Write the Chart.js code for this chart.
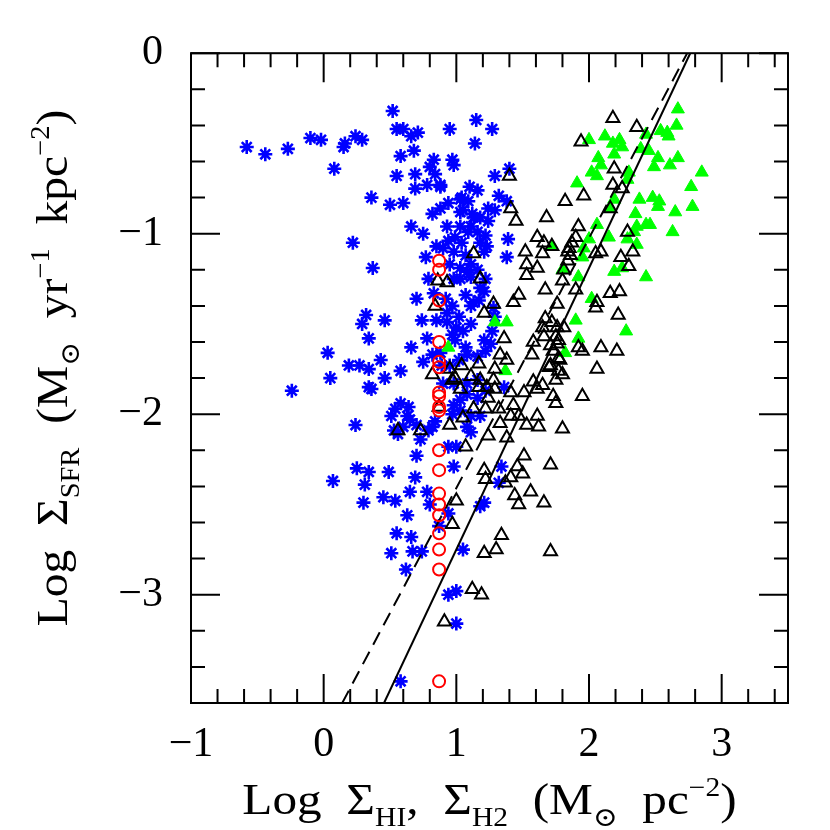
<!DOCTYPE html>
<html>
<head>
<meta charset="utf-8">
<script src="https://cdn.jsdelivr.net/npm/chart.js@4.4.1/dist/chart.umd.min.js"></script>
<style>
  html, body { margin: 0; padding: 0; background: #fff; }
  canvas { display: block; }
</style>
</head>
<body>
<canvas id="ks" width="830" height="830"></canvas>
<script>
(() => {
  'use strict'

  // Axis ticks
  const xTicks = [-1, 0, 1, 2, 3];
  const yTicks = [0, -1, -2, -3];

  // Reference relations (two end points each)
  const solidLine = [[0.455, -3.6], [2.763, 0]];
  const dashedLine = [[0.14, -3.6], [2.74, 0]];

  // Red open circles, all at the same x
  const redCircles = [
    [0.87, -1.15], [0.87, -1.20], [0.87, -1.37], [0.87, -1.60], [0.87, -1.71], [0.87, -1.74],
    [0.87, -1.88], [0.87, -1.90], [0.87, -1.96], [0.87, -1.98], [0.87, -2.20], [0.87, -2.31],
    [0.87, -2.44], [0.87, -2.50], [0.87, -2.56], [0.87, -2.66], [0.87, -2.75], [0.87, -2.86],
    [0.87, -3.48]
  ];

  // Blue asterisks
  const blueStars = [
    [-0.58, -0.52], [-0.44, -0.56], [-0.27, -0.53], [-0.10, -0.47], [-0.02, -0.48], [0.15, -0.52], [0.16, -0.50], [0.24, -0.46], [0.29, -0.48], [0.08, -0.64],
    [0.52, -0.32], [0.55, -0.42], [0.60, -0.42], [0.66, -0.46], [0.71, -0.44], [0.95, -0.42], [1.15, -0.37], [1.14, -0.50], [1.27, -0.42], [0.58, -0.57],
    [0.68, -0.54], [0.83, -0.59], [0.80, -0.63], [0.97, -0.59], [0.98, -0.62], [0.55, -0.68], [0.69, -0.67], [0.84, -0.67], [0.78, -0.73], [0.88, -0.73],
    [0.69, -0.75], [0.36, -0.80], [0.50, -0.84], [0.60, -0.83], [0.82, -0.89], [0.94, -0.83], [0.88, -0.86], [1.10, -0.74], [1.04, -0.80], [0.66, -0.96],
    [0.75, -1.00], [0.22, -1.05], [0.37, -1.19], [0.77, -1.13], [0.85, -1.07], [0.93, -0.96], [1.03, -0.88], [1.13, -0.91], [1.09, -0.99], [1.04, -1.05],
    [0.98, -1.10], [1.08, -1.21], [1.03, -1.25], [0.79, -1.25], [0.70, -1.36], [0.83, -1.33], [1.07, -1.34], [1.13, -1.38], [0.93, -1.44], [0.85, -1.48],
    [0.74, -1.48], [0.32, -1.45], [0.29, -1.50], [0.46, -1.48], [0.34, -1.58], [0.66, -1.63], [0.78, -1.58], [1.00, -1.52], [1.07, -1.63], [0.99, -1.59],
    [0.03, -1.66], [0.19, -1.73], [0.27, -1.73], [0.43, -1.70], [0.34, -1.75], [0.58, -1.76], [0.05, -1.80], [0.46, -1.80], [0.75, -1.71], [1.29, -0.68],
    [1.40, -0.64], [0.88, -0.74], [1.16, -0.76], [1.32, -0.79], [1.38, -0.82], [1.03, -0.81], [1.09, -0.82], [1.05, -0.87], [1.12, -0.89], [1.24, -0.86],
    [1.29, -0.87], [1.18, -0.91], [1.24, -0.93], [1.03, -0.96], [1.11, -0.96], [1.16, -0.99], [1.22, -1.01], [0.99, -1.02], [1.18, -1.05], [1.23, -1.07],
    [1.39, -1.03], [0.94, -1.04], [0.90, -1.08], [1.07, -1.12], [1.21, -1.10], [1.38, -1.13], [0.95, -1.17], [1.03, -1.19], [1.11, -1.17], [1.16, -1.20],
    [0.98, -1.25], [1.11, -1.24], [1.22, -1.25], [1.18, -1.30], [0.92, -1.36], [0.97, -1.40], [1.11, -1.40], [1.17, -1.37], [1.21, -1.32], [0.93, -1.49],
    [1.02, -1.46], [1.11, -1.50], [1.28, -1.41], [1.29, -1.46], [0.82, -1.67], [0.88, -1.66], [0.97, -1.56], [1.05, -1.54], [1.08, -1.67], [1.21, -1.59],
    [1.22, -1.65], [1.26, -1.61], [1.16, -1.68], [1.27, -1.54], [0.36, -1.86], [0.89, -1.73], [0.95, -1.73], [1.02, -1.70], [0.90, -1.83], [0.98, -1.83],
    [1.08, -1.83], [1.16, -1.81], [1.22, -1.87], [1.16, -1.91], [1.08, -1.89], [1.03, -1.92], [0.98, -1.95], [0.97, -2.00], [1.03, -1.98], [1.11, -2.01],
    [1.18, -2.01], [1.08, -2.07], [1.11, -2.10], [1.36, -1.85], [0.54, -1.97], [0.58, -1.94], [0.64, -1.96], [0.63, -2.01], [0.65, -2.03], [0.60, -2.07],
    [0.56, -2.11], [0.53, -2.09], [0.70, -2.06], [0.73, -2.14], [0.79, -2.09], [0.82, -2.07], [0.84, -2.04], [0.70, -2.23], [0.49, -2.32], [0.94, -2.18],
    [1.00, -2.18], [0.98, -2.29], [1.34, -2.29], [-0.24, -1.87], [0.34, -1.85], [0.24, -2.06], [0.51, -2.01], [0.25, -2.30], [0.34, -2.32], [0.07, -2.37],
    [0.31, -2.39], [0.45, -2.46], [0.54, -2.48], [0.30, -2.49], [0.55, -2.66], [0.51, -2.77], [0.69, -2.35], [0.65, -2.43], [0.78, -2.43], [0.63, -2.56],
    [0.80, -2.50], [0.94, -2.55], [0.87, -2.62], [0.66, -2.68], [0.67, -2.76], [0.74, -2.76], [0.62, -2.86], [1.05, -2.75], [1.18, -2.51], [1.21, -2.49],
    [1.32, -2.38], [0.94, -3.00], [1.00, -2.98], [1.00, -3.16], [0.58, -3.48]
  ];

  // Black open triangles
  const blackTriangles = [
    [1.40, -0.68], [1.41, -0.86], [1.45, -0.93], [1.13, -1.11], [1.82, -0.82], [1.68, -0.91], [1.61, -1.02], [1.66, -1.05], [1.52, -1.10], [1.65, -1.11],
    [1.53, -1.17], [1.61, -1.19], [1.53, -1.23], [1.84, -1.10], [1.80, -1.26], [0.86, -1.26], [1.18, -1.25], [0.93, -1.27], [0.84, -1.40], [1.47, -1.34],
    [1.67, -1.31], [1.43, -1.38], [1.28, -1.39], [1.21, -1.44], [1.76, -1.39], [1.67, -1.47], [1.72, -1.49], [1.65, -1.52], [1.76, -1.52], [1.66, -1.57],
    [1.75, -1.57], [1.81, -1.52], [1.36, -1.58], [1.58, -1.60], [1.76, -1.61], [1.57, -1.67], [1.33, -1.67], [1.38, -1.70], [1.71, -1.73], [1.78, -1.70],
    [1.77, -1.76], [1.80, -1.78], [1.17, -1.72], [1.04, -1.73], [0.95, -1.75], [1.29, -1.75], [1.28, -1.81], [0.82, -1.78], [0.97, -1.81], [1.11, -1.79],
    [1.18, -1.81], [1.03, -1.86], [1.17, -1.85], [1.23, -1.85], [1.29, -1.86], [1.24, -1.91], [1.41, -1.88], [1.51, -1.88], [1.58, -1.82], [1.61, -1.86],
    [1.73, -1.90], [1.75, -1.94], [1.13, -1.97], [1.22, -1.97], [1.32, -1.97], [1.43, -1.95], [1.41, -2.01], [1.47, -2.01], [1.61, -2.01], [1.53, -2.06],
    [1.62, -2.07], [1.80, -2.08], [0.87, -1.96], [1.05, -2.02], [0.95, -2.06], [0.73, -2.09], [0.56, -2.09], [1.33, -2.05], [1.38, -2.13], [1.24, -2.12],
    [1.07, -2.18], [1.51, -2.23], [1.71, -2.28], [1.46, -2.29], [1.21, -2.31], [0.99, -1.80], [1.22, -2.36], [1.50, -2.33], [1.41, -2.35], [1.37, -2.38],
    [1.56, -2.43], [1.44, -2.45], [1.47, -2.50], [1.66, -2.49], [1.00, -2.48], [0.97, -2.61], [1.34, -2.67], [1.30, -2.75], [1.21, -2.77], [1.71, -2.76],
    [1.12, -2.97], [1.19, -3.00], [0.91, -3.15], [2.16, -0.86], [1.92, -0.96], [1.90, -1.02], [1.87, -1.05], [1.85, -1.08], [1.86, -1.12], [1.84, -1.15],
    [1.81, -1.20], [1.72, -1.07], [2.29, -0.99], [2.33, -1.10], [2.24, -1.13], [2.30, -1.18], [2.05, -1.11], [2.09, -1.10], [1.90, -1.31], [2.16, -1.33],
    [2.23, -1.32], [2.06, -1.38], [2.05, -1.41], [2.22, -1.45], [1.77, -1.59], [1.71, -1.62], [1.73, -1.65], [1.92, -1.63], [1.95, -1.65], [2.09, -1.63],
    [2.21, -1.65], [1.77, -1.69], [1.70, -1.74], [1.75, -1.81], [2.06, -1.75], [1.65, -1.84], [1.95, -1.90], [2.18, -0.36], [2.36, -0.41], [1.94, -0.49],
    [2.19, -0.64], [2.18, -0.73], [2.25, -0.75], [1.96, -0.79]
  ];

  // Green filled triangles
  const greenTriangles = [
    [1.72, -1.07], [1.80, -1.20], [1.29, -1.49], [1.38, -1.49], [0.94, -1.63], [1.37, -1.76], [1.82, -1.66], [2.35, -0.89], [2.65, -0.88], [2.52, -0.85],
    [2.78, -0.85], [2.36, -0.96], [2.43, -0.95], [2.46, -0.95], [2.63, -0.99], [2.06, -0.95], [2.34, -0.99], [2.15, -1.02], [2.29, -1.03], [2.36, -1.06],
    [2.00, -1.03], [1.96, -1.08], [1.95, -1.13], [2.19, -1.21], [2.25, -1.19], [2.43, -1.24], [1.92, -1.24], [2.02, -1.36], [1.90, -1.48], [1.92, -1.58],
    [2.28, -1.54], [2.67, -0.31], [2.00, -0.48], [2.12, -0.46], [2.23, -0.48], [2.18, -0.50], [2.25, -0.52], [2.54, -0.43], [2.59, -0.44], [2.66, -0.40],
    [2.60, -0.46], [2.43, -0.45], [2.07, -0.58], [2.19, -0.56], [2.39, -0.53], [2.45, -0.54], [2.52, -0.58], [2.67, -0.58], [2.09, -0.62], [2.02, -0.66],
    [2.06, -0.68], [2.30, -0.66], [2.29, -0.70], [2.49, -0.63], [2.61, -0.62], [2.85, -0.66], [1.91, -0.72], [2.38, -0.81], [2.48, -0.80], [2.53, -0.82],
    [2.77, -0.74], [2.19, -0.81], [2.16, -0.86]
  ];

  const FONT = '"Liberation Serif", "DejaVu Serif", serif';
  const TICK_SIZE = 42;
  const TITLE_SIZE = 44;

  const toXY = pts => pts.map(p => ({ x: p[0], y: p[1] }));
  const fmt = v => String(v).replace('-', '\u2212');

  // Axis titles, pieces as [text, 'n' | 'sub' | 'sup']
  const xTitle = [['Log  \u03A3', 'n'], ['HI', 'sub'], [',  \u03A3', 'n'], ['H2', 'sub'],
    ['  (M', 'n'], ['\u2299', 'sub'], ['  pc', 'n'], ['\u22122', 'sup'], [')', 'n']];
  const yTitle = [['Log  \u03A3', 'n'], ['SFR', 'sub'], ['  (M', 'n'], ['\u2299', 'sub'],
    ['  yr', 'n'], ['\u22121', 'sup'], ['  kpc', 'n'], ['\u22122', 'sup'], [')', 'n']];

  // draws centred on the current origin, stretched a little to match the wide plot lettering
  function drawRich(ctx, parts, size, stretch) {
    const small = size * 0.6;
    const setFont = mode => { ctx.font = `${mode === 'n' ? size : small}px ${FONT}`; };
    let total = 0;
    parts.forEach(([t, mode]) => { setFont(mode); total += ctx.measureText(t).width; });
    ctx.scale(stretch, 1);
    let x = -total / 2;
    ctx.textAlign = 'left';
    ctx.textBaseline = 'alphabetic';
    parts.forEach(([t, mode]) => {
      setFont(mode);
      const dy = mode === 'sub' ? size * 0.28 : mode === 'sup' ? -size * 0.42 : 0;
      ctx.fillText(t, x, dy);
      x += ctx.measureText(t).width;
    });
  }

  // Box with inward major/minor ticks on all sides, plus axis titles
  const framePlugin = {
    id: 'frame',
    afterDraw(chart) {
      const ctx = chart.ctx;
      const { left, right, top, bottom } = chart.chartArea;
      const xs = chart.scales.x;
      const ys = chart.scales.y;
      ctx.save();
      ctx.strokeStyle = '#000';
      ctx.lineWidth = 2;
      ctx.beginPath();
      for (let k = 0; k <= 22; k++) {
        const v = -1 + k * 0.2;
        const len = Math.abs(v - Math.round(v)) < 1e-6 ? 29 : 14;
        const px = xs.getPixelForValue(v);
        ctx.moveTo(px, bottom); ctx.lineTo(px, bottom - len);
        ctx.moveTo(px, top); ctx.lineTo(px, top + len);
      }
      for (let k = 0; k <= 18; k++) {
        const v = -3.6 + k * 0.2;
        const len = Math.abs(v - Math.round(v)) < 1e-6 ? 29 : 14;
        const py = ys.getPixelForValue(v);
        ctx.moveTo(left, py); ctx.lineTo(left + len, py);
        ctx.moveTo(right, py); ctx.lineTo(right - len, py);
      }
      ctx.stroke();
      ctx.strokeRect(left, top, right - left, bottom - top);

      ctx.fillStyle = '#000';
      ctx.save();
      ctx.translate((left + right) / 2, 814);
      drawRich(ctx, xTitle, TITLE_SIZE, 1.12);
      ctx.restore();
      ctx.save();
      ctx.translate(67, 368);
      ctx.rotate(-Math.PI / 2);
      drawRich(ctx, yTitle, TITLE_SIZE, 1.08);
      ctx.restore();
      ctx.restore();
    }
  };

  const tickFont = { family: FONT, size: TICK_SIZE };

  new Chart(document.getElementById('ks'), {
    type: 'scatter',
    data: {
      datasets: [
        {
          data: toXY(redCircles), pointStyle: 'circle', pointRadius: 6,
          borderColor: '#ff0000', backgroundColor: 'rgba(0,0,0,0)', borderWidth: 2
        },
        {
          data: toXY(solidLine), showLine: true, pointRadius: 0,
          borderColor: '#000', borderWidth: 2
        },
        {
          data: toXY(dashedLine), showLine: true, pointRadius: 0,
          borderColor: '#000', borderWidth: 2, borderDash: [14, 8]
        },
        {
          data: toXY(blackTriangles), pointStyle: 'triangle', pointRadius: 7.5,
          borderColor: '#000', backgroundColor: 'rgba(0,0,0,0)', borderWidth: 2
        },
        {
          data: toXY(greenTriangles), pointStyle: 'triangle', pointRadius: 7.5,
          borderColor: '#00ff00', backgroundColor: '#00ff00', borderWidth: 1
        },
        {
          data: toXY(blueStars), pointStyle: 'star', pointRadius: 7,
          borderColor: '#0000ff', backgroundColor: '#0000ff', borderWidth: 2.6
        }
      ]
    },
    options: {
      responsive: false,
      animation: false,
      events: [],
      layout: { padding: { top: 45, right: 42, left: 0, bottom: 0 } },
      plugins: { legend: { display: false }, tooltip: { enabled: false } },
      scales: {
        x: {
          type: 'linear', min: -1, max: 3.5,
          afterBuildTicks: s => { s.ticks = xTicks.map(v => ({ value: v })); },
          afterFit: s => { s.height = 127; },
          grid: { display: false, drawTicks: false },
          border: { display: false },
          ticks: { font: tickFont, color: '#000', padding: 17, autoSkip: false, maxRotation: 0, callback: v => fmt(v) }
        },
        y: {
          type: 'linear', min: -3.6, max: 0,
          afterBuildTicks: s => { s.ticks = yTicks.map(v => ({ value: v })); },
          afterFit: s => { s.width = 191; },
          grid: { display: false, drawTicks: false },
          border: { display: false },
          ticks: { font: tickFont, color: '#000', padding: 28, autoSkip: false, callback: v => fmt(v) }
        }
      }
    },
    plugins: [framePlugin]
  });
})();
</script>
</body>
</html>
